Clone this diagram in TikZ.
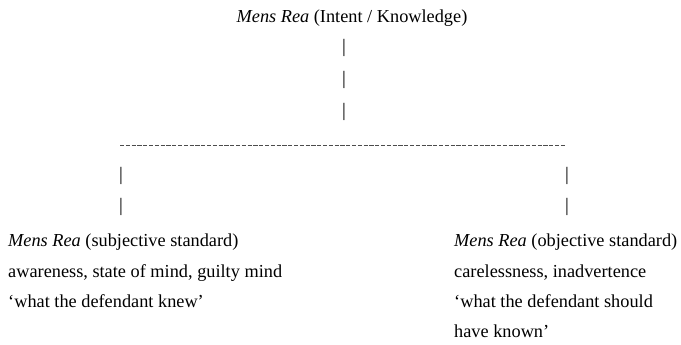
\documentclass[tikz,border=0pt]{standalone}
\usepackage{fontspec}
\setmainfont{Liberation Serif}
\begin{document}
\begin{tikzpicture}[x=1pt,y=-1pt,
  txt/.style={inner sep=0pt,anchor=base west,font=\fontsize{18.3}{22}\selectfont},
  bar/.style={inner sep=0pt,anchor=center,font=\fontsize{19}{22}\selectfont},
  dashline/.style={line width=0.9pt,draw=black!70,dash pattern=on 4.2pt off 1.6pt}]
\useasboundingbox (0,0) rectangle (681,345);
\node[txt,anchor=base] (top) at (352,23) {\textit{Mens Rea} (Intent / Knowledge)};
\node[bar] (p1) at (344,48) {|};
\node[bar] (p2) at (344,80) {|};
\node[bar] (p3) at (344,112) {|};
\coordinate (dl) at (120,145);
\coordinate (dr) at (566,145);
\draw[dashline] (dl) -- (dr);
\node[bar] (l1) at (121,176) {|};
\node[bar] (l2) at (121,207) {|};
\node[bar] (r1) at (567,176) {|};
\node[bar] (r2) at (567,207) {|};
\node[txt] (la) at (8,246) {\textit{Mens Rea} (subjective standard)};
\node[txt] (lb) at (8,277) {awareness, state of mind, guilty mind};
\node[txt] (lc) at (8,307) {‘what the defendant knew’};
\node[txt] (ra) at (454,246) {\textit{Mens Rea} (objective standard)};
\node[txt] (rb) at (454,277) {carelessness, inadvertence};
\node[txt] (rc) at (454,307) {‘what the defendant should};
\node[txt] (rd) at (454,337) {have known’};
\end{tikzpicture}
\end{document}
